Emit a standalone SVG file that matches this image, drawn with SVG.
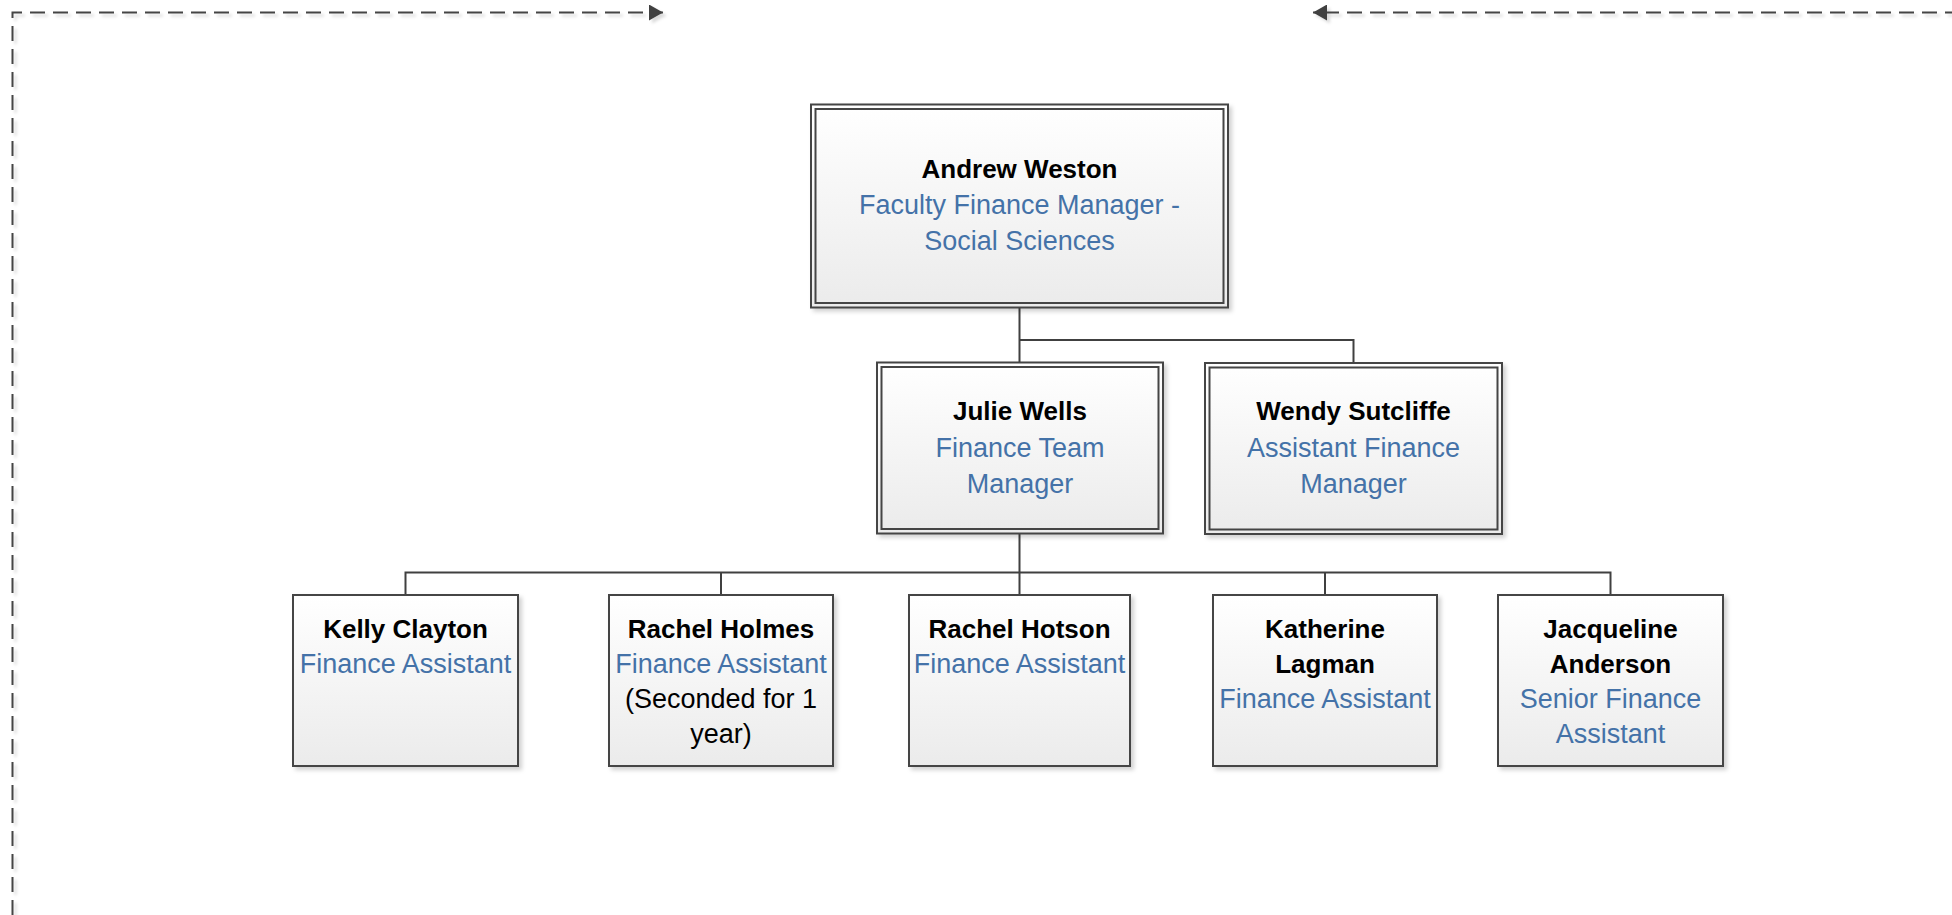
<svg xmlns="http://www.w3.org/2000/svg" width="1952" height="915" viewBox="0 0 1952 915">
<style>
  .box { fill: url(#grad); stroke: #454545; stroke-width: 2; }
  .inner { fill: none; stroke: #454545; stroke-width: 2; }
  .name { font-family: "Liberation Sans", Arial, sans-serif; font-weight: bold; font-size: 26px; fill: #000; text-anchor: middle; }
  .title { font-family: "Liberation Sans", Arial, sans-serif; font-size: 27px; fill: #4472a8; text-anchor: middle; }
  .note { font-family: "Liberation Sans", Arial, sans-serif; font-size: 27px; fill: #000; text-anchor: middle; }
  .conn { fill: none; stroke: #404040; stroke-width: 2; }
  .dash { fill: none; stroke: #454545; stroke-width: 2; stroke-dasharray: 15 8; }
</style>
<defs>
  <linearGradient id="grad" x1="0" y1="0" x2="0" y2="1">
    <stop offset="0" stop-color="#ffffff"/>
    <stop offset="1" stop-color="#ebebeb"/>
  </linearGradient>
  <filter id="shadow" x="-10%" y="-10%" width="130%" height="130%">
    <feDropShadow dx="3" dy="3" stdDeviation="2" flood-color="#000" flood-opacity="0.18"/>
  </filter>
  <filter id="lineshadow" filterUnits="userSpaceOnUse" x="0" y="0" width="1952" height="915">
    <feDropShadow dx="3" dy="3" stdDeviation="1.5" flood-color="#000" flood-opacity="0.15"/>
  </filter>
  <marker id="arrow" viewBox="0 0 14 16" refX="14" refY="8" markerWidth="14" markerHeight="16" markerUnits="userSpaceOnUse" orient="auto">
    <path d="M0,0 L14,8 L0,16 Z" fill="#404040"/>
  </marker>
</defs>
<rect x="0" y="0" width="1952" height="915" fill="#ffffff"/>

<g id="frame" filter="url(#lineshadow)">
  <path class="dash" d="M12.5,915 V12.5 H663" marker-end="url(#arrow)"/>
  <path class="dash" d="M1960,12.5 H1313" marker-end="url(#arrow)"/>
</g>

<g id="connectors">
  <path class="conn" d="M1019.5,308 V340 M1019.5,340 V363 M1019.5,340 H1353.5 V363"/>
  <path class="conn" d="M1019.5,534 V572.5 M405.5,595 V572.5 H1610.5 V595 M721,572.5 V595 M1019.5,572.5 V595 M1325,572.5 V595"/>
</g>

<g id="andrew-weston">
  <rect class="box" x="811" y="104.5" width="417" height="203" filter="url(#shadow)"/>
  <rect class="inner" x="815.5" y="109" width="408" height="194"/>
  <text class="name" x="1019.5" y="178">Andrew Weston</text>
  <text class="title" x="1019.5" y="214">Faculty Finance Manager -</text>
  <text class="title" x="1019.5" y="250">Social Sciences</text>
</g>

<g id="julie-wells">
  <rect class="box" x="877" y="362.5" width="286" height="171" filter="url(#shadow)"/>
  <rect class="inner" x="881.5" y="367" width="277" height="162"/>
  <text class="name" x="1020" y="420">Julie Wells</text>
  <text class="title" x="1020" y="456.5">Finance Team</text>
  <text class="title" x="1020" y="493">Manager</text>
</g>

<g id="wendy-sutcliffe">
  <rect class="box" x="1205" y="363" width="297" height="171" filter="url(#shadow)"/>
  <rect class="inner" x="1209.5" y="367.5" width="288" height="162"/>
  <text class="name" x="1353.5" y="420">Wendy Sutcliffe</text>
  <text class="title" x="1353.5" y="456.5">Assistant Finance</text>
  <text class="title" x="1353.5" y="493">Manager</text>
</g>

<g id="kelly-clayton">
  <rect class="box" x="293" y="595" width="225" height="171" filter="url(#shadow)"/>
  <text class="name" x="405.5" y="638">Kelly Clayton</text>
  <text class="title" x="405.5" y="673">Finance Assistant</text>
</g>

<g id="rachel-holmes">
  <rect class="box" x="609" y="595" width="224" height="171" filter="url(#shadow)"/>
  <text class="name" x="721" y="638">Rachel Holmes</text>
  <text class="title" x="721" y="673">Finance Assistant</text>
  <text class="note" x="721" y="708">(Seconded for 1</text>
  <text class="note" x="721" y="743">year)</text>
</g>

<g id="rachel-hotson">
  <rect class="box" x="909" y="595" width="221" height="171" filter="url(#shadow)"/>
  <text class="name" x="1019.5" y="638">Rachel Hotson</text>
  <text class="title" x="1019.5" y="673">Finance Assistant</text>
</g>

<g id="katherine-lagman">
  <rect class="box" x="1213" y="595" width="224" height="171" filter="url(#shadow)"/>
  <text class="name" x="1325" y="638">Katherine</text>
  <text class="name" x="1325" y="673">Lagman</text>
  <text class="title" x="1325" y="708">Finance Assistant</text>
</g>

<g id="jacqueline-anderson">
  <rect class="box" x="1498" y="595" width="225" height="171" filter="url(#shadow)"/>
  <text class="name" x="1610.5" y="638">Jacqueline</text>
  <text class="name" x="1610.5" y="673">Anderson</text>
  <text class="title" x="1610.5" y="708">Senior Finance</text>
  <text class="title" x="1610.5" y="743">Assistant</text>
</g>
</svg>
